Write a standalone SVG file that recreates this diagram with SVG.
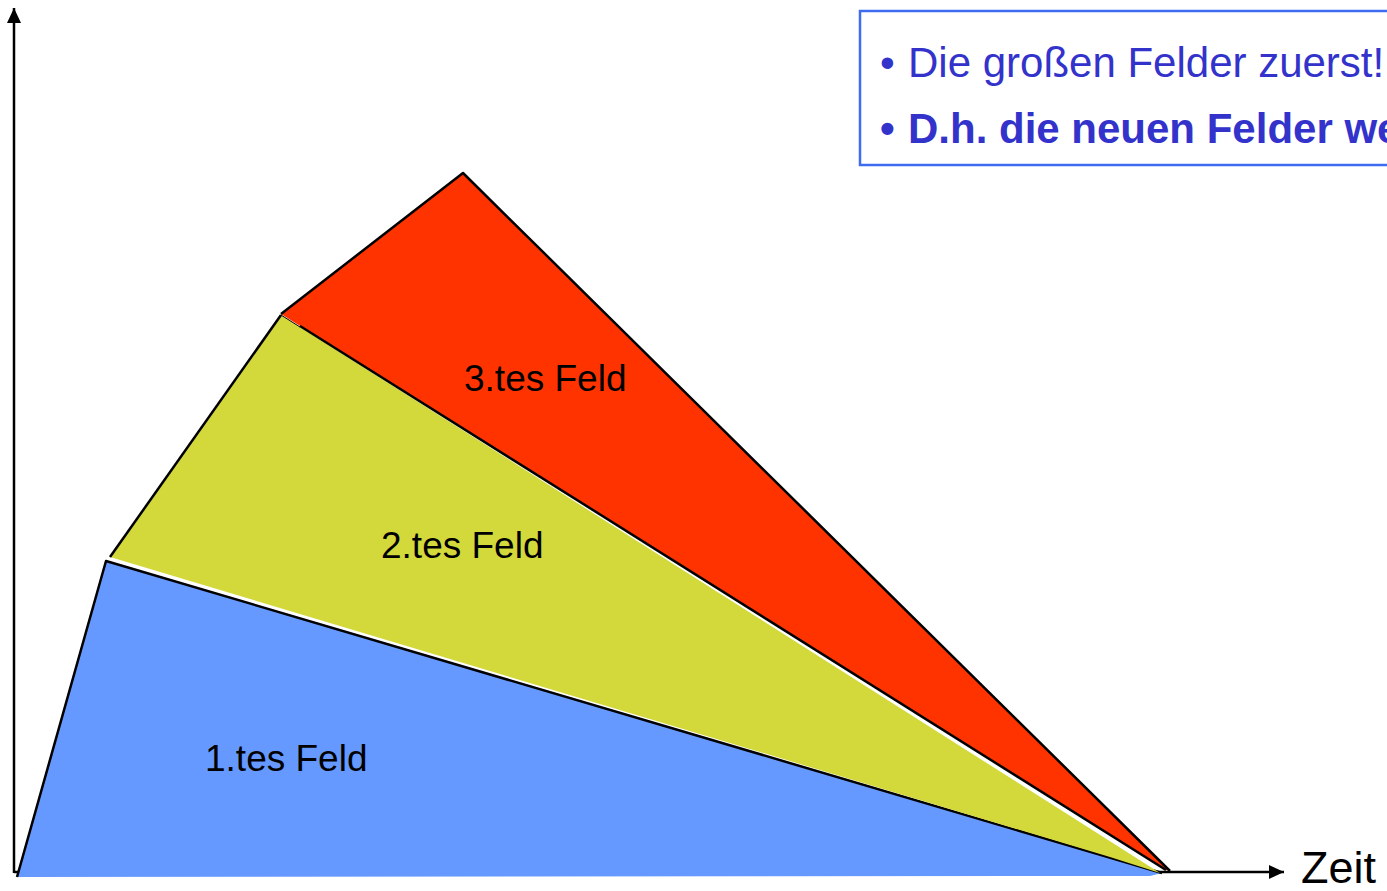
<svg xmlns="http://www.w3.org/2000/svg" width="1387" height="891" viewBox="0 0 1387 891">
  <defs>
    <marker id="arrow" markerUnits="userSpaceOnUse" markerWidth="16" markerHeight="16" viewBox="0 0 16 16" refX="15" refY="8" orient="auto">
      <polygon points="0,1 15,8 0,15" fill="#000"/>
    </marker>
    <style>
      .axis { stroke: #000; stroke-width: 2.5; fill: none; }
      .edge { stroke: #000; stroke-width: 2.5; fill: none; stroke-linejoin: round; }
      .lbl { font-family: "Liberation Sans", Arial, sans-serif; font-size: 37px; fill: #000; }
      .box { font-family: "Liberation Sans", Arial, sans-serif; font-size: 42px; fill: #3333cc; }
    </style>
  </defs>
  <rect width="1387" height="891" fill="#fff"/>

  <g id="connectors">
    <line class="axis" x1="14" y1="873" x2="14" y2="8" marker-end="url(#arrow)"/>
    <line class="axis" x1="14" y1="872" x2="1284" y2="872" marker-end="url(#arrow)"/>
  </g>

  <g id="field1">
    <polygon points="17,877 106,561 1162,873 1150,876" fill="#6699ff"/>
    <polyline class="edge" points="17,877 106,561 1162,873"/>
    <text class="lbl" x="205" y="771">1.tes Feld</text>
  </g>

  <g id="field2">
    <polygon points="110,557 281,315 1160,873 1110,857" fill="#d4d93b"/>
    <polyline class="edge" points="110,557 281,315"/>
    <text class="lbl" x="381" y="558">2.tes Feld</text>
  </g>

  <g id="field3">
    <polygon points="281,314 463,173 1170,871 1166,870" fill="#ff3300"/>
    <polyline class="edge" points="281,314 463,173 1170,871"/>
    <line class="edge" x1="300" y1="326" x2="1166" y2="870"/>
    <line stroke="#000" stroke-width="1" x1="281" y1="315" x2="300" y2="327"/>
    <text class="lbl" x="464" y="391">3.tes Feld</text>
  </g>

  <g id="textbox">
    <rect x="860" y="11" width="540" height="154" fill="#fff" stroke="#3f6bf0" stroke-width="2.5"/>
    <text class="box" x="880" y="77">•</text>
    <text class="box" x="908" y="77">Die großen Felder zuerst!</text>
    <text class="box" x="880" y="143" font-weight="bold">•</text>
    <text class="box" x="908" y="143" font-weight="bold">D.h. die neuen Felder we</text>
  </g>

  <g id="axis-label">
    <text x="1301" y="883" font-family="Liberation Sans, Arial, sans-serif" font-size="45" fill="#000">Zeit</text>
  </g>
</svg>
